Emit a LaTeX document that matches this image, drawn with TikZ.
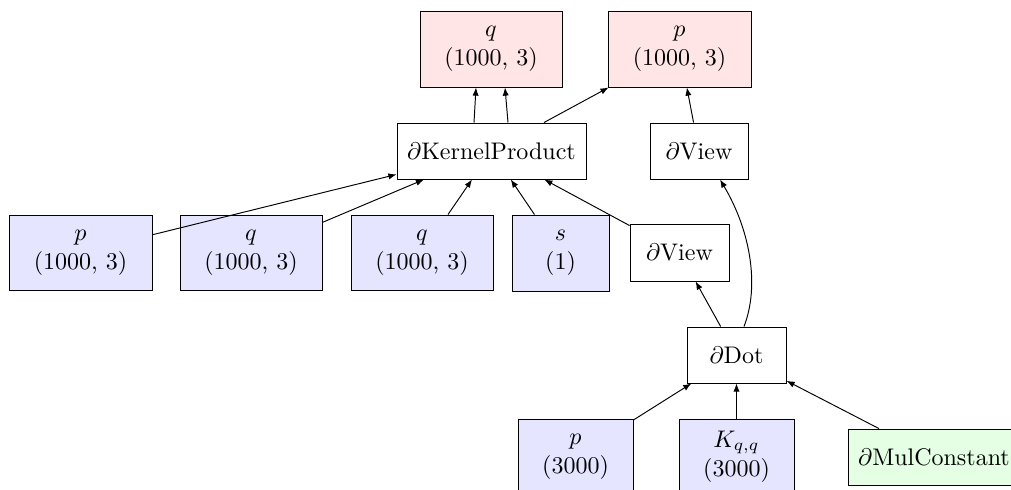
\documentclass[tikz,border=0pt]{standalone}
\usetikzlibrary{arrows.meta,calc}
\begin{document}
\begin{tikzpicture}[x=0.4167pt,y=-0.4167pt,
  box/.style={draw, inner sep=0pt, align=center, line width=0.4pt},
  redbox/.style={box, fill=red!10},
  bluebox/.style={box, fill=blue!10},
  greenbox/.style={box, fill=green!10},
  opbox/.style={box, fill=white},
  sz/.style 2 args={minimum width={#1*0.4167pt}, minimum height={#2*0.4167pt}},
  arr/.style={-{Latex[length=3.4pt,width=2.6pt]}, line width=0.4pt}]
\useasboundingbox (0,0) rectangle (1011,490);
% top outputs
\node[redbox, sz={142}{76}] (qt) at (491,49) {$q$\\(1000, 3)};
\node[redbox, sz={143}{76}] (pt) at (679.5,49) {$p$\\(1000, 3)};
% ops
\node[opbox, sz={189}{56}] (kp) at (491.5,151) {$\partial$KernelProduct};
\node[opbox, sz={98}{56}] (va) at (699,151) {$\partial$View};
\node[opbox, sz={99}{57}] (vb) at (679.5,252.5) {$\partial$View};
\node[opbox, sz={99}{56}] (dot) at (736.5,355) {$\partial$Dot};
% inputs
\node[bluebox, sz={143}{75}] (p2) at (80.5,252.5) {$p$\\(1000, 3)};
\node[bluebox, sz={142}{75}] (q2) at (251,252.5) {$q$\\(1000, 3)};
\node[bluebox, sz={142}{75}] (q3) at (422,252.5) {$q$\\(1000, 3)};
\node[bluebox, sz={97}{76}] (s) at (560.5,253) {$s$\\(1)};
\node[bluebox, sz={115}{75}] (pb) at (575.5,456.5) {$p$\\(3000)};
\node[bluebox, sz={115}{75}] (kb) at (736.5,456.5) {$K_{q,q}$\\(3000)};
\node[greenbox, sz={172}{56}] (mc) at (934,457) {$\partial$MulConstant};
% connectors
\draw[arr] ($(kp.north)+(-17.5,0)$) -- ($(qt.south)+(-15,0)$);
\draw[arr] ($(kp.north)+(16.5,0)$) -- ($(qt.south)+(14,0)$);
\draw[arr] (kp) -- (pt);
\draw[arr] (va) -- (pt);
\draw[arr] (p2) -- (kp);
\draw[arr] (q2) -- (kp);
\draw[arr] (q3) -- (kp);
\draw[arr] (s) -- (kp);
\draw[arr] (vb) -- (kp);
\draw[arr] (dot) -- (vb);
\draw[arr] ($(dot.north)+(7.5,0)$) .. controls (760,285) and (750,230) .. ($(va.south)+(21,0)$);
\draw[arr] (pb) -- (dot);
\draw[arr] (kb) -- (dot);
\draw[arr] (mc) -- (dot);
\end{tikzpicture}
\end{document}
